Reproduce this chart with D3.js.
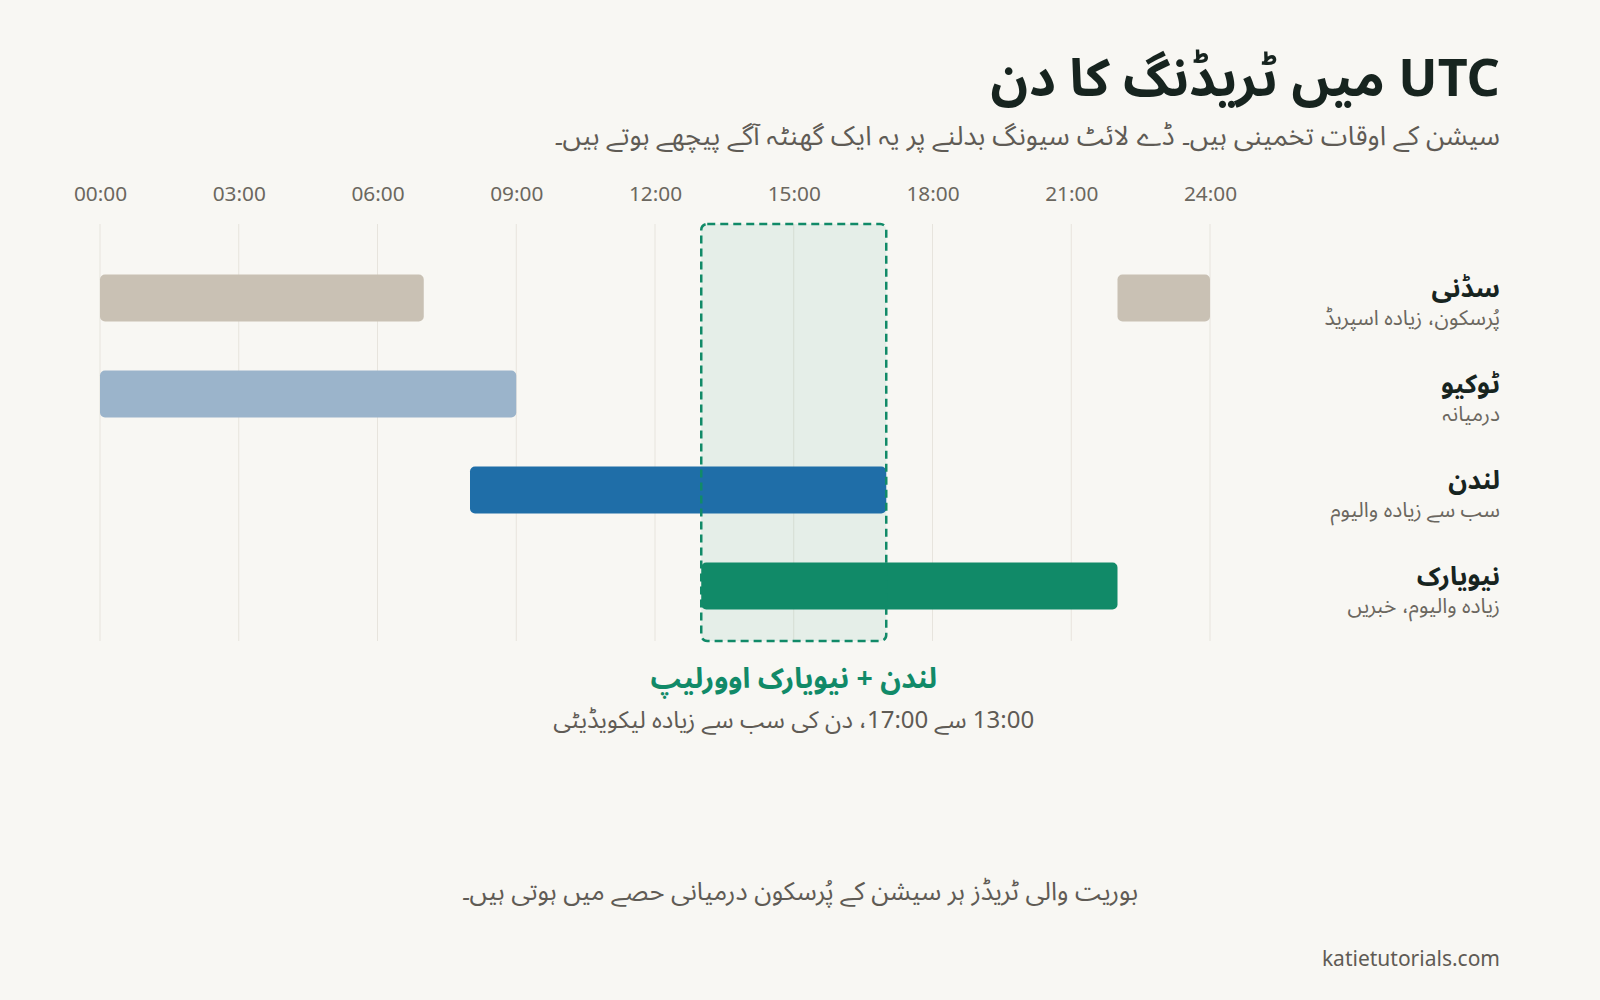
<!DOCTYPE html>
<html lang="ur">
<head>
<meta charset="utf-8">
<script src="https://cdn.jsdelivr.net/npm/d3@7"></script>
<style>
  html, body { margin: 0; padding: 0; background: #f8f7f3; }
  svg { display: block; font-family: "Noto Sans", "Noto Sans Arabic", "DejaVu Sans", sans-serif; }
</style>
</head>
<body>
<svg id="chart" width="1600" height="1000"></svg>
<script>
// ---- Data ----
const tickHours = [0, 3, 6, 9, 12, 15, 18, 21, 24];
const tickLabels = ["00:00", "03:00", "06:00", "09:00", "12:00", "15:00", "18:00", "21:00", "24:00"];
const sessions = ["سڈنی", "ٹوکیو", "لندن", "نیویارک"];
const sessionNotes = ["پُرسکون، زیادہ اسپریڈ", "درمیانہ", "سب سے زیادہ والیوم", "زیادہ والیوم، خبریں"];
const sessionSegments = [
  [[0, 7], [22, 24]],
  [[0, 9]],
  [[8, 17]],
  [[13, 22]]
];
const sessionColors = ["#c9c1b4", "#9bb4cb", "#1f6ea8", "#118a68"];
const overlapWindow = [13, 17];
const titleText = "UTC میں ٹریڈنگ کا دن";
const subtitleText = "سیشن کے اوقات تخمینی ہیں۔ ڈے لائٹ سیونگ بدلنے پر یہ ایک گھنٹہ آگے پیچھے ہوتے ہیں۔";
const overlapTitle = "لندن + نیویارک اوورلیپ";
const overlapNote = "13:00 سے 17:00، دن کی سب سے زیادہ لیکویڈیٹی";
const footNote = "بوریت والی ٹریڈز ہر سیشن کے پُرسکون درمیانی حصے میں ہوتی ہیں۔";
const sourceText = "katietutorials.com";

// ---- Layout ----
const svg = d3.select("#chart");
const W = 1600, H = 1000;
svg.append("rect").attr("width", W).attr("height", H).attr("fill", "#f8f7f3");

const x = d3.scaleLinear().domain([0, 24]).range([100, 1210]);
const y = d3.scaleBand().domain(sessions).range([250, 634]).paddingInner(0.51).paddingOuter(0.255);
const gridTop = 224, gridBottom = 641;

// title
svg.append("text")
  .attr("x", 1500).attr("y", 96)
  .attr("direction", "rtl").attr("text-anchor", "start")
  .attr("font-size", 52).attr("font-weight", 700).attr("fill", "#17241f")
  .text(titleText);
svg.append("text")
  .attr("x", 1500).attr("y", 145)
  .attr("direction", "rtl").attr("text-anchor", "start")
  .attr("font-size", 27).attr("fill", "#5f5b55")
  .text(subtitleText);

// grid
svg.append("g").selectAll("line").data(tickHours).join("line")
  .attr("x1", d => x(d)).attr("x2", d => x(d))
  .attr("y1", gridTop).attr("y2", gridBottom)
  .attr("stroke", "#e7e4dd").attr("stroke-width", 1);

// axis
const axis = d3.axisTop(x).tickValues(tickHours).tickFormat((d, i) => tickLabels[i]).tickSize(0).tickPadding(0);
const axG = svg.append("g").attr("transform", "translate(0,201)").call(axis);
axG.select(".domain").remove();
axG.selectAll("text").attr("font-size", 20.8).attr("fill", "#6b675f")
  .attr("font-family", "'Noto Sans', 'Open Sans', sans-serif");

// overlap box (background)
svg.append("rect")
  .attr("x", x(overlapWindow[0])).attr("width", x(overlapWindow[1]) - x(overlapWindow[0]))
  .attr("y", gridTop).attr("height", gridBottom - gridTop)
  .attr("rx", 6)
  .attr("fill", "#118a68").attr("fill-opacity", 0.08);

// bars
const rows = svg.append("g").selectAll("g").data(sessions).join("g");
rows.each(function(name, i) {
  d3.select(this).selectAll("rect").data(sessionSegments[i]).join("rect")
    .attr("x", d => x(d[0]))
    .attr("width", d => x(d[1]) - x(d[0]))
    .attr("y", y(name)).attr("height", y.bandwidth())
    .attr("rx", 5)
    .attr("fill", sessionColors[i]);
});

// overlap dashed outline on top
svg.append("rect")
  .attr("x", x(overlapWindow[0])).attr("width", x(overlapWindow[1]) - x(overlapWindow[0]))
  .attr("y", gridTop).attr("height", gridBottom - gridTop)
  .attr("rx", 6)
  .attr("fill", "none").attr("stroke", "#118a68").attr("stroke-width", 2.5)
  .attr("stroke-dasharray", "8,5");

// row labels
rows.append("text")
  .attr("x", 1500).attr("y", d => y(d) + y.bandwidth() / 2 - 1)
  .attr("direction", "rtl").attr("text-anchor", "start")
  .attr("font-size", 26).attr("font-weight", 700).attr("fill", "#17241f")
  .text(d => d);
rows.append("text")
  .attr("x", 1500).attr("y", d => y(d) + y.bandwidth() / 2 + 27)
  .attr("direction", "rtl").attr("text-anchor", "start")
  .attr("font-size", 21).attr("fill", "#6b675f")
  .text((d, i) => sessionNotes[i]);

// overlap annotation
const midX = x((overlapWindow[0] + overlapWindow[1]) / 2);
svg.append("text")
  .attr("x", midX).attr("y", 688)
  .attr("direction", "rtl").attr("text-anchor", "middle")
  .attr("font-size", 28.5).attr("font-weight", 700).attr("fill", "#118a68")
  .text(overlapTitle);
svg.append("text")
  .attr("x", midX).attr("y", 728)
  .attr("direction", "rtl").attr("text-anchor", "middle")
  .attr("font-size", 24).attr("fill", "#5f5b55")
  .text(overlapNote);

// footnote
svg.append("text")
  .attr("x", 800).attr("y", 900)
  .attr("direction", "rtl").attr("text-anchor", "middle")
  .attr("font-size", 25.5).attr("fill", "#5f5b55")
  .text(footNote);

// source
svg.append("text")
  .attr("x", 1500).attr("y", 966)
  .attr("text-anchor", "end")
  .attr("font-size", 21).attr("fill", "#5f5b55")
  .text(sourceText);
</script>
</body>
</html>
